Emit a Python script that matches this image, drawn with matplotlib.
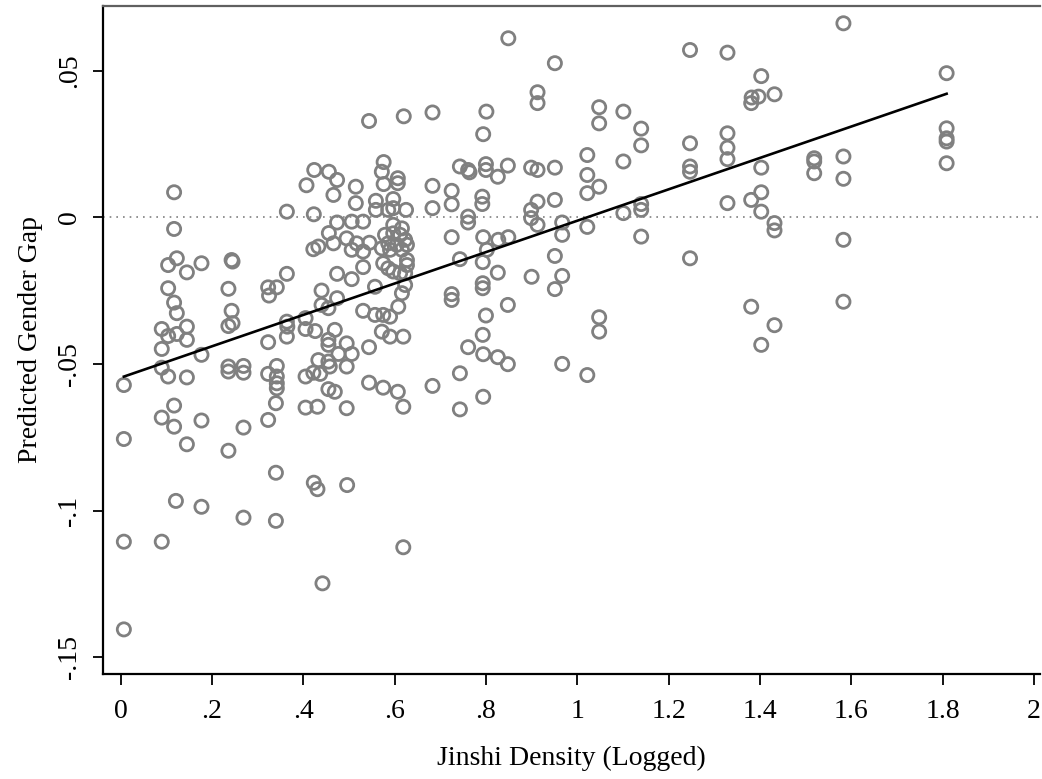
import matplotlib
matplotlib.use("Agg")
import matplotlib.pyplot as plt
import numpy as np

plt.rcParams['font.family'] = ['Liberation Serif', 'DejaVu Serif']

# jinshi density (logged) and predicted gender gap
jinshi_density = [
    .117, .364, .424, .456, .474, .407, .466, .423, .117, .474,
    .456, .466, .422, .433, .123, .104, .145, .177, .243, .245,
    .364, .474, .104, .236, .323, .342, .325, .440, .474, .117,
    .123, .243, .440, .455, .405, .364, .365, .364, .236, .245,
    .090, .104, .123, .145, .145, .405, .426, .469, .455, .455,
    .090, .177, .323, .477, .433, .455, .458, .437, .422, .090,
    .104, .145, .236, .236, .269, .269, .323, .342, .342, .342,
    .342, .405, .455, .469, .007, .117, .340, .090, .117, .177,
    .269, .323, .405, .431, .007, .145, .236, .340, .423, .431,
    .121, .177, .269, .340, .007, .090, .442, .007,
    .849, .951, .913, .913, .544, .620, .683, .801, .794, .576,
    .572, .576, .607, .607, .515, .515, .559, .559, .597, .597,
    .625, .586, .683, .683, .725, .725, .743, .761, .764, .800,
    .800, .826, .848, .792, .792, .761, .761, .899, .913, .951,
    .913, .899, .899, .951, .913, .967, .506, .531, .597, .616,
    .495, .517, .545, .506, .531, .579, .597, .612, .623, .627,
    .586, .572, .590, .605, .616, .627, .627, .575, .586, .597,
    .612, .623, .623, .616, .608, .590, .575, .557, .531, .506,
    .531, .557, .572, .590, .619, .495, .506, .495, .544, .544,
    .575, .607, .495, .619, .683, .725, .743, .794, .827, .849,
    .802, .793, .826, .793, .793, .725, .725, .848, .800, .793,
    .761, .794, .826, .848, .743, .794, .743, .900, .951, .967,
    .951, .967, .967, .496, .619,
    1.247, 1.329, 1.403, 1.382, 1.397, 1.381, 1.432, 1.048, 1.048, 1.101,
    1.140, 1.140, 1.022, 1.022, 1.022, 1.048, 1.101, 1.247, 1.247, 1.247,
    1.329, 1.329, 1.329, 1.403, 1.403, 1.381, 1.403, 1.329, 1.140, 1.140,
    1.101, 1.022, 1.432, 1.432, 1.140, 1.247, 1.048, 1.048, 1.022, 1.381,
    1.432, 1.403, 1.583, 1.809, 1.809, 1.809, 1.809, 1.809, 1.519, 1.519,
    1.519, 1.583, 1.583, 1.583, 1.583,
]
gender_gap = [
    .0085, .0019, .0161, .0155, .0127, .0109, .0076, .0010, -.0040, -.0018,
    -.0054, -.0089, -.0109, -.0100, -.0140, -.0163, -.0188, -.0157, -.0146, -.0151,
    -.0193, -.0193, -.0242, -.0244, -.0239, -.0239, -.0267, -.0250, -.0276, -.0291,
    -.0327, -.0319, -.0299, -.0310, -.0344, -.0356, -.0373, -.0407, -.0371, -.0361,
    -.0381, -.0405, -.0398, -.0373, -.0418, -.0381, -.0388, -.0384, -.0418, -.0435,
    -.0449, -.0469, -.0426, -.0466, -.0487, -.0492, -.0509, -.0534, -.0530, -.0513,
    -.0543, -.0546, -.0509, -.0526, -.0507, -.0530, -.0534, -.0507, -.0543, -.0566,
    -.0583, -.0543, -.0586, -.0595, -.0572, -.0642, -.0634, -.0683, -.0714, -.0693,
    -.0717, -.0691, -.0649, -.0646, -.0756, -.0774, -.0796, -.0871, -.0905, -.0927,
    -.0967, -.0987, -.1024, -.1035, -.1106, -.1106, -.1248, -.1405,
    .0610, .0525, .0426, .0389, .0328, .0344, .0357, .0360, .0283, .0188,
    .0155, .0113, .0133, .0116, .0104, .0048, .0056, .0025, .0062, .0031,
    .0025, .0025, .0107, .0031, .0090, .0044, .0173, .0161, .0153, .0181,
    .0161, .0138, .0176, .0070, .0045, .0002, -.0018, .0169, .0161, .0169,
    .0053, .0025, -.0003, .0059, -.0026, -.0018, -.0015, -.0015, -.0026, -.0038,
    -.0072, -.0089, -.0087, -.0111, -.0117, -.0060, -.0055, -.0060, -.0077, -.0094,
    -.0089, -.0106, -.0111, -.0094, -.0111, -.0146, -.0163, -.0157, -.0174, -.0185,
    -.0191, -.0191, -.0231, -.0259, -.0305, -.0339, -.0333, -.0333, -.0319, -.0211,
    -.0170, -.0237, -.0390, -.0407, -.0407, -.0430, -.0466, -.0509, -.0443, -.0564,
    -.0581, -.0595, -.0651, -.0646, -.0575, -.0068, -.0143, -.0068, -.0077, -.0068,
    -.0111, -.0153, -.0189, -.0225, -.0242, -.0262, -.0282, -.0299, -.0335, -.0401,
    -.0443, -.0467, -.0477, -.0501, -.0532, -.0612, -.0655, -.0203, -.0132, -.0200,
    -.0245, -.0060, -.0500, -.0913, -.1125,
    .0570, .0561, .0481, .0408, .0411, .0389, .0419, .0375, .0320, .0360,
    .0302, .0245, .0212, .0144, .0082, .0104, .0190, .0252, .0173, .0155,
    .0286, .0237, .0198, .0169, .0085, .0059, .0019, .0048, .0045, .0025,
    .0014, -.0033, -.0020, -.0045, -.0066, -.0140, -.0341, -.0390, -.0538, -.0305,
    -.0368, -.0435, .0661, .0491, .0303, .0269, .0258, .0184, .0201, .0190,
    .0150, .0207, .0131, -.0077, -.0288,
]

# fitted line
fit_intercept = -0.0547
fit_slope = 0.0535

x_ticks = [0, .2, .4, .6, .8, 1, 1.2, 1.4, 1.6, 1.8, 2]
x_labels = ['0', '.2', '.4', '.6', '.8', '1', '1.2', '1.4', '1.6', '1.8', '2']
y_ticks = [.05, 0, -.05, -.1, -.15]
y_labels = ['.05', '0', '-.05', '-.1', '-.15']

fig = plt.figure(figsize=(10.42, 7.79), dpi=100)
fig.patch.set_facecolor('white')
ax = fig.add_axes([0.0988, 0.1348, 0.8994, 0.8575])

ax.axhline(0, color='#808080', lw=1.2, ls=(0, (1, 3)), zorder=1)

ax.scatter(jinshi_density, gender_gap, s=90, facecolors='none',
           edgecolors='#808080', linewidths=2.0, zorder=2)

xs = np.array([min(jinshi_density), max(jinshi_density)])
ax.plot(xs, fit_intercept + fit_slope * xs, color='black', lw=1.9, zorder=3)

ax.set_xlim(-0.0388, 2.0138)
ax.set_ylim(-0.1557, 0.0720)

ax.set_xticks(x_ticks)
ax.set_xticklabels(x_labels)
ax.set_yticks(y_ticks)
ax.set_yticklabels(y_labels, rotation=90, va='center')

ax.tick_params(axis='x', length=8, width=1.3, pad=10, labelsize=20)
ax.tick_params(axis='y', length=7, width=1.3, pad=8, labelsize=20)

ax.spines['left'].set_linewidth(1.6)
ax.spines['bottom'].set_linewidth(1.6)
ax.spines['top'].set_color('#606060')
ax.spines['top'].set_linewidth(1.6)
ax.spines['right'].set_visible(False)

ax.set_xlabel('Jinshi Density (Logged)', fontsize=20, labelpad=16)
ax.set_ylabel('Predicted Gender Gap', fontsize=20, labelpad=10)

plt.savefig('out.png', dpi=100)
